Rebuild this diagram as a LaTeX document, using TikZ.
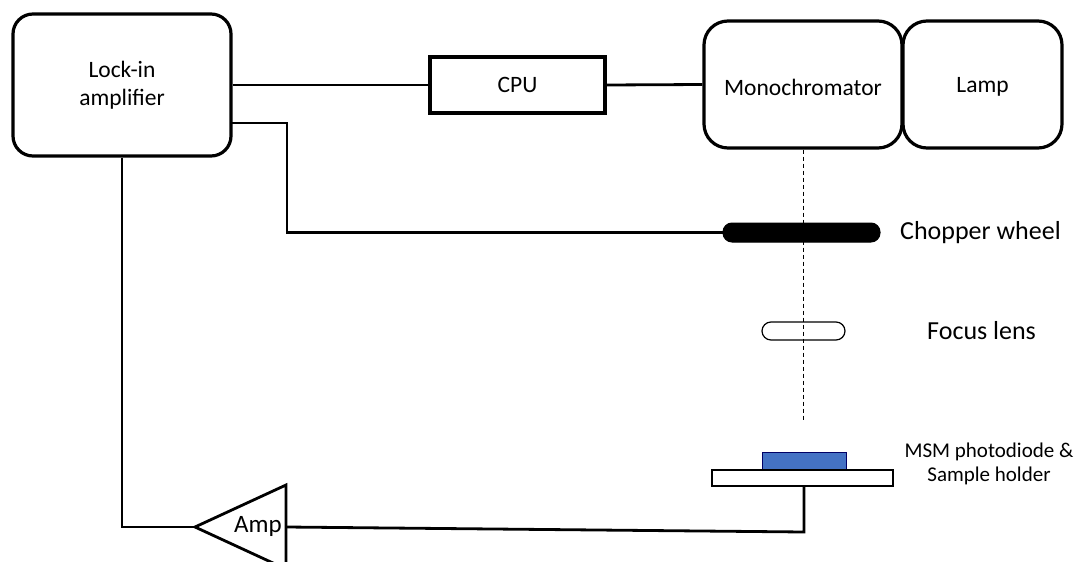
\documentclass[tikz,border=0pt]{standalone}
\usepackage{fontspec}
\setmainfont{Carlito}
\begin{document}
\begin{tikzpicture}[x=1pt,y=-1pt,
  boxr/.style={draw,line width=3.2pt,rounded corners=#1,inner sep=0pt,align=center,
     font=\fontsize{23.5}{28}\selectfont},
  boxr/.default=20pt,
  wire/.style={line width=2.8pt},
  lbl/.style={inner sep=0pt,anchor=west,font=\fontsize{26}{30}\selectfont},
  beam/.style={line width=1pt,dash pattern=on 4pt off 3pt}
]
\useasboundingbox (0,0) rectangle (1085,562);
% boxes
\node[boxr, minimum width=218pt, minimum height=142pt] (lockin) at (122,85) {Lock-in\\amplifier};
\node[boxr=0pt, minimum width=175pt, minimum height=56pt] (cpu) at (517.5,85) {CPU};
\node[boxr=24pt, minimum width=198pt, minimum height=127pt] (mono) at (803,84.5) {};
\node[inner sep=0pt,font=\fontsize{23.5}{28}\selectfont] (monot) at (803,87) {Monochromator};
\node[boxr=24pt, minimum width=159pt, minimum height=127pt] (lamp) at (982.5,84.5) {};
\node[inner sep=0pt,font=\fontsize{23.5}{28}\selectfont] (lampt) at (982.5,87) {Lamp};
% optics
\node[draw,fill=black,line width=1pt,rounded corners=9pt,minimum width=157pt,minimum height=19pt,inner sep=0pt] (chopper) at (801.5,232.5) {};
\node[lbl] (chopperl) at (900,233) {Chopper wheel};
\node[draw,fill=white,line width=1.2pt,rounded corners=9pt,minimum width=83pt,minimum height=18pt,inner sep=0pt] (lens) at (803.5,331) {};
\node[lbl] (lensl) at (927,331) {Focus lens};
\coordinate (beamend) at (803,420);
% sample
\node[draw=black!60!blue,fill={rgb,255:red,68;green,114;blue,196},line width=0.8pt,minimum width=84pt,minimum height=19pt,inner sep=0pt] (msm) at (804,461.5) {};
\node[draw,fill=white,line width=2.2pt,minimum width=181pt,minimum height=16pt,inner sep=0pt] (holder) at (802.5,478) {};
\node[inner sep=0pt,align=center,font=\fontsize{21}{24}\selectfont] (msml) at (989,464) {MSM photodiode \&\\Sample holder};
% amplifier triangle
\coordinate (amptip) at (195,527);
\coordinate (ampright) at (286,527);
\draw[line width=2.8pt,line join=miter] (286,485) -- (amptip) -- (286,569) -- cycle;
\node[inner sep=0pt,font=\fontsize{25}{30}\selectfont] (amp) at (258,526) {Amp};
% beam
\draw[beam] (mono.south) -- (beamend);
% wires
\draw[wire] (lockin.east) -- (cpu.west);
\draw[wire] (cpu.east) -- (mono.west);
\coordinate (lk2) at (231,123);
\coordinate (bend1) at (287,123);
\draw[wire] (lk2) -- (bend1) |- (chopper.west);
\draw[wire] (lockin.south) |- (amptip);
\coordinate (sbend) at (804,532);
\draw[wire] (holder.south -| sbend) -- (sbend) -- (ampright);
\end{tikzpicture}
\end{document}
